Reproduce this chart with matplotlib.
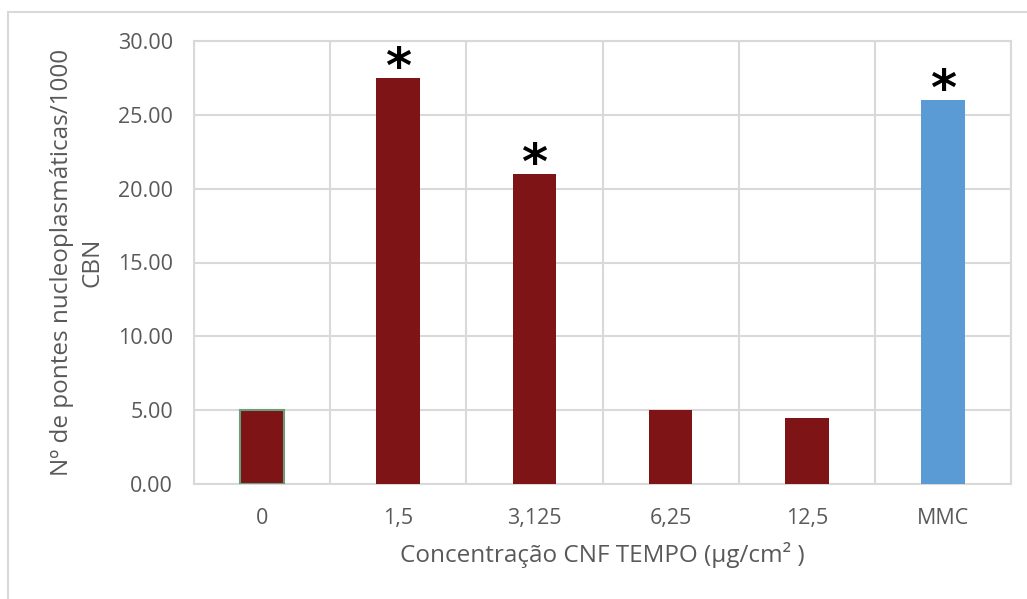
import matplotlib.pyplot as plt
from matplotlib.patches import Rectangle
import numpy as np

# data
categories = ['0', '1,5', '3,125', '6,25', '12,5', 'MMC']
values = [5.0, 27.5, 21.0, 5.0, 4.5, 26.0]
significant = [False, True, True, False, False, True]
bar_colors = ['#7f1416', '#7f1416', '#7f1416', '#7f1416', '#7f1416', '#5b9bd5']
edge_colors = ['#6a9e7a', 'none', 'none', 'none', 'none', 'none']

plt.rcParams['font.family'] = ['Open Sans', 'DejaVu Sans']
text_color = '#595959'
grid_color = '#d9d9d9'

fig = plt.figure(figsize=(10.27, 5.99), dpi=100)

# outer chart frame
fig.patches.append(Rectangle((8 / 1027, -0.05), 1.1, 1 - 12 / 599 + 0.05,
                             transform=fig.transFigure, fill=False,
                             edgecolor=grid_color, linewidth=1.5))

ax = fig.add_axes([194 / 1027, 1 - 484 / 599, 817 / 1027, 443 / 599])
x = np.arange(len(categories))
ax.bar(x, values, width=0.32, color=bar_colors, edgecolor=edge_colors,
       linewidth=1.5, zorder=3)

# significance marks
for xi, v, s in zip(x, values, significant):
    if s:
        ax.text(xi, v - 1.0, '*', ha='center', va='bottom', fontsize=36,
                fontweight='bold', color='black', family='DejaVu Sans')

ax.set_xlim(-0.5, len(categories) - 0.5)
ax.set_ylim(0, 30)
ax.set_yticks(np.arange(0, 31, 5))
ax.set_yticklabels([f'{t:.2f}' for t in np.arange(0, 31, 5)])
ax.set_xticks(x)
ax.set_xticklabels(categories)
ax.set_xticks(np.arange(-0.5, len(categories)), minor=True)

ax.grid(axis='y', which='major', color=grid_color, linewidth=1.5, zorder=0)
ax.grid(axis='x', which='minor', color=grid_color, linewidth=1.5, zorder=0)
ax.tick_params(axis='both', which='both', length=0, colors=text_color, labelsize=15.5)
ax.tick_params(axis='y', pad=15)
ax.tick_params(axis='x', pad=17)
for sp in ax.spines.values():
    sp.set_color(grid_color)
    sp.set_linewidth(1.5)

ax.set_xlabel('Concentração CNF TEMPO (µg/cm² )', fontsize=17.5, color=text_color, labelpad=10)
ax.set_ylabel('Nº de pontes nucleoplasmáticas/1000\nCBN', fontsize=17.5, color=text_color,
              labelpad=10, linespacing=1.35)

fig.savefig('out.png', dpi=100)
